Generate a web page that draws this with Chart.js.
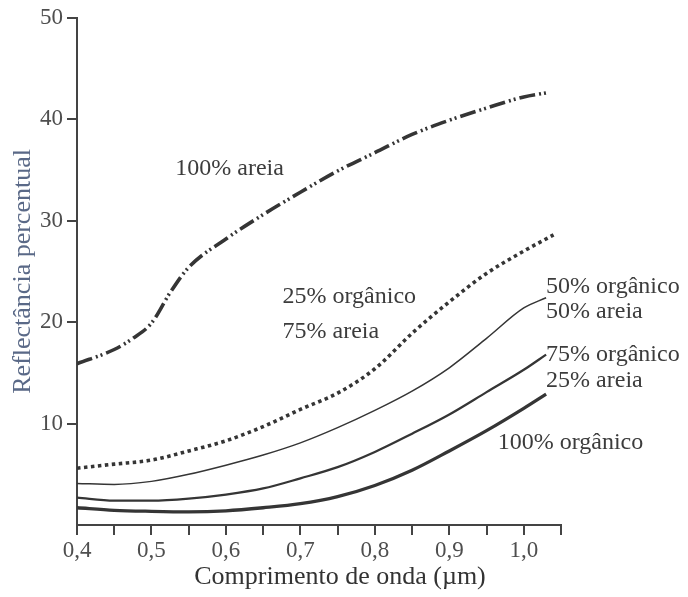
<!DOCTYPE html>
<html>
<head>
<meta charset="utf-8">
<script src="https://cdn.jsdelivr.net/npm/chart.js@4/dist/chart.umd.min.js"></script>
<style>
  html, body { margin: 0; padding: 0; background: #fff; }
</style>
</head>
<body>
<canvas id="grafico" width="688" height="597"></canvas>
<script>
// comprimento de onda (µm) e reflectancia (%) de cada mistura
const xAreia = [0.40, 0.45, 0.475, 0.50, 0.525, 0.55, 0.60, 0.65, 0.70, 0.75, 0.80, 0.85, 0.90, 0.95, 1.00, 1.03];
const areia100 = [15.9, 17.3, 18.4, 19.9, 22.9, 25.4, 28.2, 30.6, 32.8, 34.9, 36.7, 38.5, 39.9, 41.1, 42.2, 42.6];

const xOrg25 = [0.40, 0.45, 0.50, 0.55, 0.60, 0.65, 0.70, 0.75, 0.80, 0.85, 0.90, 0.95, 1.00, 1.04];
const org25 = [5.6, 6.0, 6.4, 7.3, 8.3, 9.7, 11.4, 13.0, 15.4, 18.9, 22.0, 24.8, 27.0, 28.6];

const xMisturas = [0.40, 0.45, 0.50, 0.55, 0.60, 0.65, 0.70, 0.75, 0.80, 0.85, 0.90, 0.95, 1.00, 1.03];
const org50 = [4.1, 4.0, 4.3, 5.0, 5.9, 6.9, 8.1, 9.6, 11.3, 13.2, 15.5, 18.4, 21.4, 22.4];
const org75 = [2.7, 2.4, 2.4, 2.6, 3.0, 3.6, 4.6, 5.7, 7.2, 9.0, 10.9, 13.1, 15.3, 16.8];
const org100 = [1.7, 1.45, 1.35, 1.3, 1.4, 1.7, 2.1, 2.8, 3.9, 5.4, 7.3, 9.3, 11.5, 12.9];

const yTicks = [10, 20, 30, 40, 50];

const tinta = '#353535';
const serif = '"Liberation Serif", "DejaVu Serif", serif';

function pontos(xs, ys) {
  return xs.map((x, i) => ({ x: x, y: ys[i] }));
}

function serie(xs, ys, width, dash) {
  return {
    data: pontos(xs, ys),
    borderColor: tinta,
    borderWidth: width,
    borderDash: dash || [],
    borderCapStyle: 'butt',
    pointRadius: 0,
    fill: false,
    cubicInterpolationMode: 'monotone'
  };
}

// rotulos das curvas, em unidades dos eixos
const rotulos = {
  id: 'rotulos',
  afterDatasetsDraw(chart) {
    const { ctx, scales: { x, y } } = chart;
    const itens = [
      { t: '100% areia', x: 0.532, y: 35.1 },
      { t: '25% orgânico', x: 0.676, y: 22.5 },
      { t: '75% areia', x: 0.676, y: 19.1 },
      { t: '50% orgânico', x: 1.030, y: 23.5 },
      { t: '50% areia', x: 1.030, y: 21.0 },
      { t: '75% orgânico', x: 1.030, y: 16.8 },
      { t: '25% areia', x: 1.030, y: 14.2 },
      { t: '100% orgânico', x: 0.965, y: 8.1 }
    ];
    ctx.save();
    ctx.fillStyle = '#3c3c3c';
    ctx.font = '24px ' + serif;
    ctx.textBaseline = 'middle';
    ctx.textAlign = 'left';
    itens.forEach(r => ctx.fillText(r.t, x.getPixelForValue(r.x), y.getPixelForValue(r.y)));

    // titulos dos eixos
    const a = chart.chartArea;
    ctx.fillStyle = '#333';
    ctx.font = '26px ' + serif;
    ctx.textAlign = 'center';
    ctx.fillText('Comprimento de onda (µm)', (a.left + a.right) / 2 + 21, 577);

    ctx.translate(23, (a.top + a.bottom) / 2);
    ctx.rotate(-Math.PI / 2);
    ctx.fillStyle = '#5a6987';
    ctx.fillText('Reflectância percentual', 0, 0);
    ctx.restore();
  }
};

const config = {
  type: 'line',
  data: {
    datasets: [
      serie(xAreia, areia100, 3.6, [16, 4, 2, 3, 2, 4]),
      serie(xOrg25, org25, 3.6, [3.5, 3.5]),
      serie(xMisturas, org50, 1.5),
      serie(xMisturas, org75, 2.3),
      serie(xMisturas, org100, 3.3)
    ]
  },
  options: {
    responsive: false,
    animation: false,
    layout: { padding: { top: 14, right: 127, left: 0, bottom: 0 } },
    plugins: { legend: { display: false }, tooltip: { enabled: false } },
    scales: {
      x: {
        type: 'linear',
        min: 0.4,
        max: 1.05,
        afterFit(s) { s.height = 72; },
        afterBuildTicks(s) {
          const t = [];
          for (let i = 0; i <= 13; i++) t.push({ value: Math.round((0.4 + i * 0.05) * 100) / 100 });
          s.ticks = t;
        },
        border: { display: true, color: '#444', width: 2 },
        grid: { drawOnChartArea: false, drawTicks: true, tickLength: 10, color: '#444', lineWidth: 2 },
        ticks: {
          autoSkip: false,
          maxRotation: 0,
          padding: 2,
          color: '#4e4e4e',
          font: { family: serif, size: 23 },
          callback(v) {
            const d = Math.round(v * 100);
            return d % 10 === 0 ? (d / 100).toFixed(1).replace('.', ',') : '';
          }
        }
      },
      y: {
        type: 'linear',
        min: 0,
        max: 50,
        afterFit(s) { s.width = 77; },
        afterBuildTicks(s) { s.ticks = yTicks.map(v => ({ value: v })); },
        border: { display: true, color: '#444', width: 2 },
        grid: { drawOnChartArea: false, drawTicks: true, tickLength: 10, color: '#444', lineWidth: 2 },
        ticks: {
          padding: 4,
          color: '#4e4e4e',
          font: { family: serif, size: 23 }
        }
      }
    }
  },
  plugins: [rotulos]
};

const grafico = new Chart(document.getElementById('grafico'), config);
</script>
</body>
</html>
